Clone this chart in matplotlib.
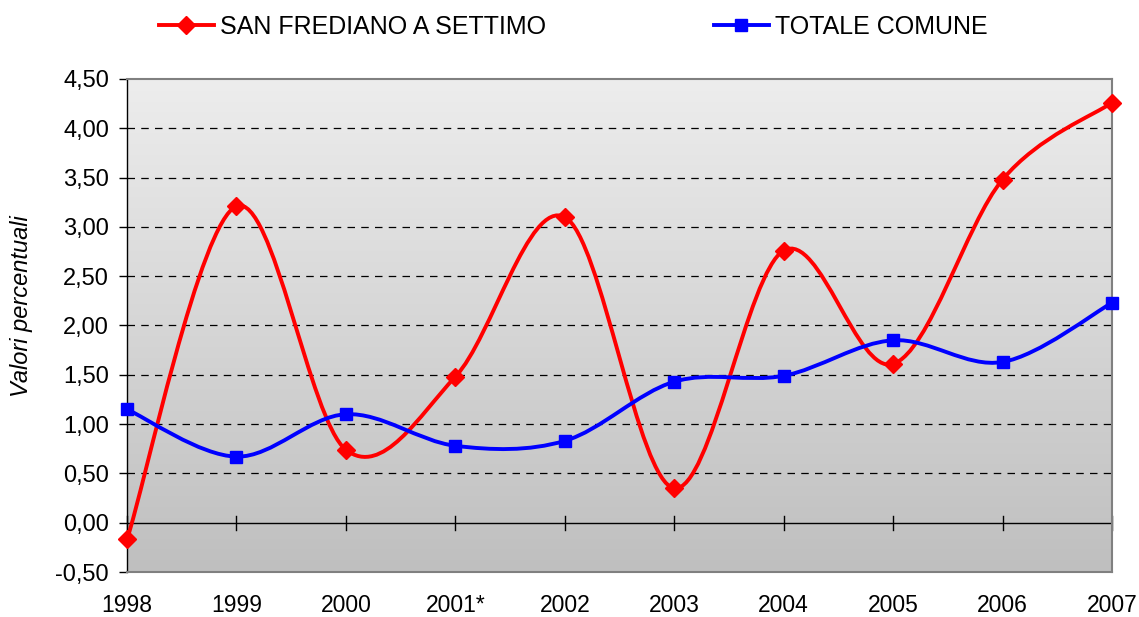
import numpy as np
import matplotlib
matplotlib.use("Agg")
import matplotlib.pyplot as plt
from matplotlib.path import Path
from matplotlib.patches import PathPatch
from matplotlib.colors import LinearSegmentedColormap

years = ["1998", "1999", "2000", "2001*", "2002", "2003", "2004", "2005", "2006", "2007"]
san_frediano = [-0.17, 3.21, 0.74, 1.48, 3.10, 0.35, 2.76, 1.61, 3.48, 4.26]
totale_comune = [1.15, 0.67, 1.10, 0.78, 0.83, 1.43, 1.49, 1.85, 1.63, 2.23]
yticks = [-0.5, 0, 0.5, 1.0, 1.5, 2.0, 2.5, 3.0, 3.5, 4.0, 4.5]

plt.rcParams['font.family'] = ['Liberation Sans', 'DejaVu Sans']

fig = plt.figure(figsize=(11.39, 6.17), dpi=100)
ax = fig.add_axes([127/1139, 1 - 572/617, (1112-127)/1139, (572-79)/617])

# gradient background
grad = np.linspace(0, 1, 256).reshape(-1, 1)
cmap = LinearSegmentedColormap.from_list("g", ["#bfbfbf", "#ededed"])
ax.imshow(grad, cmap=cmap, aspect="auto", extent=[0, 1, 0, 1], origin="lower",
          transform=ax.transAxes, zorder=0)


def smooth_path(x, y):
    x = np.asarray(x, float)
    y = np.asarray(y, float)
    pts = np.column_stack([x, y])
    n = len(pts)
    verts = [pts[0]]
    codes = [Path.MOVETO]
    for i in range(n - 1):
        p0 = pts[i - 1] if i > 0 else pts[i]
        p1 = pts[i]
        p2 = pts[i + 1]
        p3 = pts[i + 2] if i + 2 < n else pts[i + 1]
        c1 = p1 + (p2 - p0) / 6.0
        c2 = p2 - (p3 - p1) / 6.0
        verts += [c1, c2, p2]
        codes += [Path.CURVE4] * 3
    return Path(verts, codes)


x = np.arange(len(years))
for vals, color, marker, ms, label in [
    (san_frediano, "#ff0000", "D", 9, "SAN FREDIANO A SETTIMO"),
    (totale_comune, "#0000ff", "s", 8.5, "TOTALE COMUNE"),
]:
    patch = PathPatch(smooth_path(x, vals), facecolor="none", edgecolor=color,
                      lw=2.8, zorder=3, clip_on=False)
    ax.add_patch(patch)
    ax.plot(x, vals, linestyle="none", marker=marker, color=color, ms=ms,
            zorder=4, clip_on=False)
    ax.plot([], [], color=color, lw=2.8, marker=marker, ms=ms, label=label)

ax.set_xlim(0, len(years) - 1)
ax.set_ylim(-0.5, 4.5)

for yv in yticks[2:-1]:
    ax.axhline(yv, color="black", lw=0.9, ls=(0, (6, 5)), zorder=1)
ax.axhline(0, color="black", lw=1.0, zorder=2)
for xi in x:
    ax.plot([xi, xi], [-0.07, 0.07], color="black", lw=1.0, zorder=2, clip_on=False)

ax.set_yticks(yticks)
ax.set_yticklabels([f"{v:.2f}".replace(".", ",") for v in yticks], fontsize=17)
ax.set_xticks(x)
ax.set_xticklabels(years, fontsize=16.5)
ax.tick_params(axis="x", length=0, pad=16)
ax.tick_params(axis="y", length=6, width=1.0, direction="out", pad=7)

for s in ["top", "right", "bottom"]:
    ax.spines[s].set_color("#808080")
    ax.spines[s].set_linewidth(1.5)
ax.spines["left"].set_color("black")
ax.spines["left"].set_linewidth(1.0)

ax.text(22/1139, 1 - 306/617, "Valori percentuali", transform=fig.transFigure,
        rotation=90, ha="center", va="center", fontsize=17, style="italic")

leg = fig.legend(loc="center", bbox_to_anchor=(573/1139, 1 - 27/617), ncol=2,
                 frameon=False, fontsize=18, handlelength=2.2, columnspacing=6.7,
                 handletextpad=0.25, borderaxespad=0, borderpad=0)

fig.savefig("out.png", dpi=100)
